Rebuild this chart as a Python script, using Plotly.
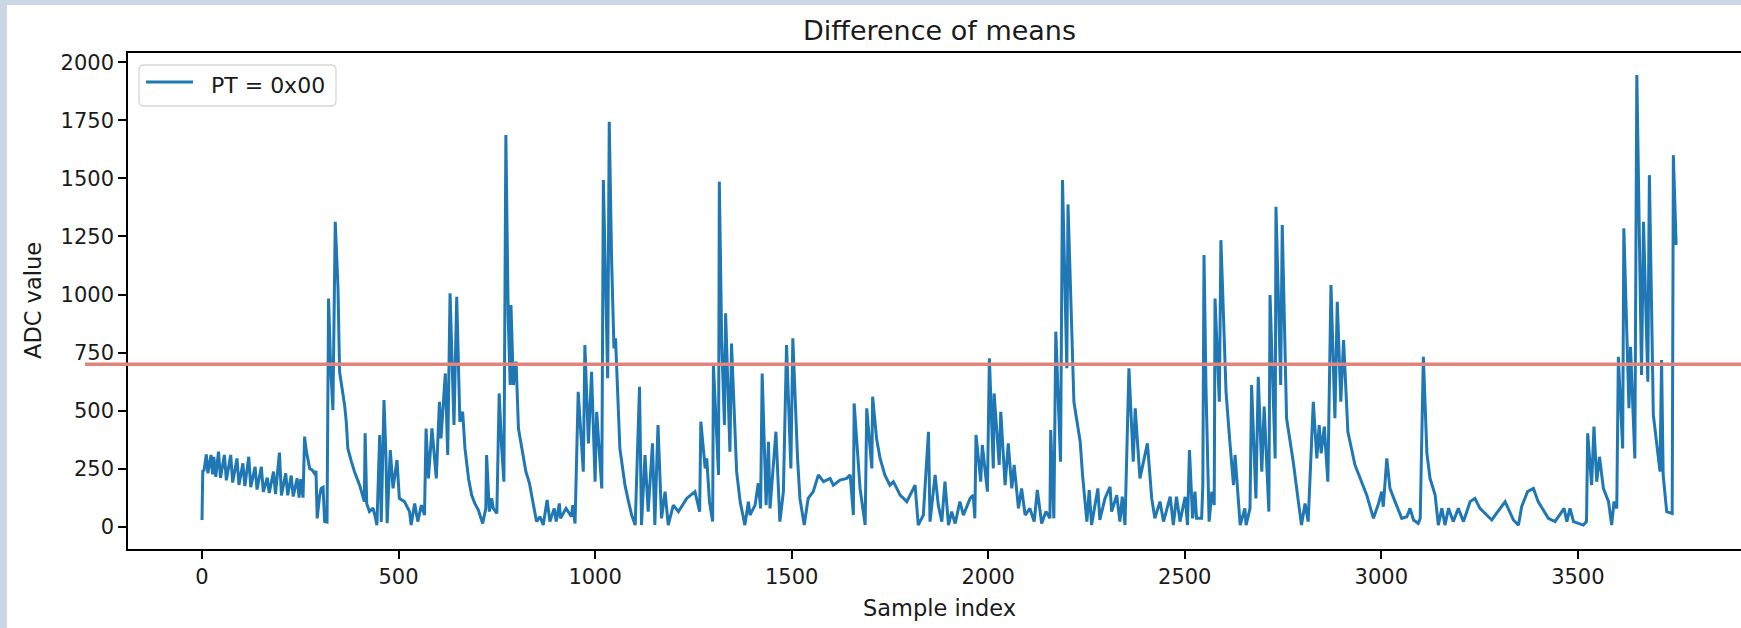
import plotly.graph_objects as go

# ---- data (sample index, ADC value) ----
sample_index = [
    0, 2, 5, 11, 15, 23, 27, 30, 35, 42, 47, 57, 62, 73, 78, 89, 94, 104, 109, 119, 124, 135, 140, 151, 156, 166,
    171, 182, 187, 197, 202, 213, 218, 227, 232, 242, 247, 251, 257, 261, 265, 269, 274, 280, 286, 290, 293, 299,
    303, 308, 312, 318, 322, 327, 333, 339, 346, 350, 354, 363, 367, 371, 380, 388, 401, 409, 413, 415, 419, 426,
    435, 441, 445, 452, 456, 463, 468, 471, 479, 486, 496, 502, 515, 528, 532, 541, 549, 558, 566, 570, 576, 585,
    596, 604, 608, 619, 625, 631,
    641, 648, 656, 663, 669, 678, 686, 694, 703, 714, 722, 724, 731, 737, 741, 750, 756, 762, 768, 773, 779, 784,
    786, 792, 799, 805, 816, 824, 833, 841, 851, 860, 868, 878, 885, 896, 901, 909, 912, 926, 940, 943, 949, 957,
    970, 974, 983, 991, 1000, 1004, 1017, 1021, 1027, 1032, 1036, 1042, 1048, 1052, 1063, 1076, 1085, 1093, 1102,
    1113, 1118, 1127, 1135, 1146, 1152, 1160, 1169, 1178, 1186, 1199, 1212, 1233, 1254, 1266,
    1269, 1280, 1284, 1291, 1299, 1301, 1314, 1316, 1322, 1329, 1332, 1339, 1343, 1347, 1360, 1369, 1381, 1390,
    1394, 1407, 1415, 1421, 1425, 1435, 1441, 1445, 1460, 1470, 1479, 1487, 1498, 1503, 1515, 1521, 1532, 1542,
    1555, 1568, 1581, 1598, 1606, 1623, 1640, 1649, 1657, 1659, 1674, 1687, 1691, 1704, 1706, 1716, 1725, 1737,
    1750, 1759, 1776, 1793, 1814, 1822, 1835, 1848, 1852, 1865, 1873, 1882, 1890, 1899,
    1907, 1916, 1928, 1937, 1954, 1962, 1966, 1969, 1981, 1985, 1998, 2003, 2013, 2015, 2028, 2032, 2043, 2051,
    2060, 2066, 2077, 2085, 2094, 2106, 2117, 2125, 2136, 2147, 2157, 2159, 2167, 2172, 2184, 2189, 2200, 2203,
    2212, 2218, 2234, 2240, 2251, 2257, 2263, 2279, 2284, 2297, 2310, 2314, 2327, 2335, 2341, 2348, 2358, 2369,
    2374, 2386, 2405, 2416, 2424, 2437, 2446, 2463, 2471, 2479, 2488, 2501, 2507, 2512,
    2520, 2526, 2530, 2543, 2546, 2549, 2554, 2562, 2569, 2575, 2577, 2588, 2592, 2605, 2614, 2624, 2628, 2636,
    2641, 2653, 2656, 2666, 2670, 2681, 2687, 2696, 2702, 2714, 2717, 2730, 2732, 2744, 2748, 2759, 2776, 2789,
    2797, 2806, 2814, 2827, 2836, 2842, 2847, 2855, 2864, 2872, 2882, 2888, 2897, 2904, 2915, 2933, 2950, 2963,
    2980, 2993, 3001, 3005, 3014, 3022, 3035, 3052, 3065, 3073, 3082, 3094, 3099, 3107, 3116, 3124, 3137, 3145,
    3154, 3162, 3171,
    3183, 3196, 3209, 3226, 3238, 3251, 3268, 3281, 3293, 3315, 3336, 3349, 3357, 3372, 3387, 3399, 3412, 3425,
    3442, 3465, 3472, 3480, 3489, 3514, 3522, 3525, 3535, 3541, 3548, 3555, 3565, 3578, 3586, 3592, 3599, 3603,
    3614, 3617, 3630, 3634, 3645, 3650, 3662, 3667, 3678, 3682, 3692, 3709, 3713, 3717, 3726, 3740, 3743, 3750,
]

adc_value = [
    29, 244, 240, 311, 230, 309, 225, 301, 215, 323, 210, 309, 200, 309, 190, 294, 180, 273, 175, 301, 170, 258,
    160, 258, 150, 211, 145, 237, 140, 319, 135, 230, 135, 220, 130, 208, 125, 205, 125, 388, 330, 300, 250, 245,
    230, 240, 36, 130, 165, 170, 22, 20, 983, 700, 502, 1313, 1026, 667, 624, 520, 452, 337, 280, 237, 179, 130,
    108, 402, 100, 65, 80, 40, 7, 395, 20, 545, 300, 15, 330, 165, 287, 122, 108, 65, 7, 100, 22, 93, 50, 423,
    208, 423, 208, 538, 380, 660, 309, 1005,
    438, 990, 452, 495, 337, 208, 136, 100, 72, 14, 79, 309, 65, 122, 79, 57, 574, 350, 194, 1687, 900, 610, 955,
    610, 711, 423, 309, 237, 187, 108, 22, 43, 7, 115, 22, 79, 22, 100, 36, 79, 43, 93, 14, 581, 237, 782, 359,
    667, 194, 495, 165, 1493, 1000, 639, 1744, 1148, 768, 811, 337, 179, 108, 50, 7, 603, 7, 309, 65, 359, 7,
    438, 36, 151, 7, 93, 65, 122, 151, 65,
    452, 251, 294, 108, 22, 696, 223, 1486, 800, 438, 919, 500, 323, 789, 237, 108, 7, 108, 50, 93, 187, 79,
    660, 93, 366, 79, 409, 22, 151, 782, 251, 811, 294, 122, 7, 122, 151, 223, 194, 208, 179, 201, 208, 223, 50,
    531, 165, 7, 510, 251, 560, 380, 294, 223, 179, 194, 136, 108, 179, 7, 50, 409, 22, 223, 93, 22, 194, 7,
    65, 14, 108, 50, 122, 136, 36, 395, 194, 352, 151, 725, 251, 574, 266, 495, 179, 359, 165, 266, 79, 165, 50,
    79, 22, 158, 14, 65, 36, 416, 36, 840, 280, 1493, 682, 1388, 882, 538, 366, 223, 22, 158, 7, 165, 29, 122,
    172, 65, 136, 22, 129, 7, 682, 280, 510, 208, 359, 122, 36, 108, 22, 129, 7, 129, 22, 129, 7, 330,
    36, 151, 36, 36, 180, 1170, 600, 22, 151, 93, 983, 538, 1234, 581, 380, 179, 309, 108, 7, 79, 7, 79, 610,
    122, 646, 237, 517, 65, 998, 294, 1378, 610, 1299, 467, 280, 108, 7, 100, 22, 538, 294, 438, 316, 431, 194,
    1041, 467, 969, 538, 804, 409, 266, 194, 136, 36, 100, 151, 86, 294, 165, 108, 36, 43, 79, 29, 14, 36, 732,
    316, 208, 136, 7, 79, 7, 79,
    22, 79, 22, 108, 122, 79, 50, 29, 57, 108, 29, 7, 86, 151, 165, 108, 72, 36, 22, 79, 22, 79, 22, 7, 22, 402,
    179, 431, 194, 301, 165, 108, 7, 108, 79, 732, 337, 1285, 510, 775, 294, 1945, 653, 1313, 624, 1514, 481,
    237, 718, 223, 65, 57, 1600, 1213,
]

series_name = "PT = 0x00"
threshold = 700
chart_title = "Difference of means"
x_label = "Sample index"
y_label = "ADC value"

# ---- layout geometry (pixels) ----
W, H = 1741, 628
L, T, B = 128, 53, 79
PW = W - L
PH = H - T - B

def px_x(p):
    return (p - L) / PW

def px_y(p):
    return (H - B - p) / PH

FONT = "DejaVu Sans"
TXT = "#1a1a1a"
FRAME = "#cbd7e4"
BLUE = "#1f77b4"
LW = 3.0

fig = go.Figure()
fig.add_trace(go.Scatter(
    x=sample_index, y=adc_value, mode="lines", name=series_name,
    line=dict(color=BLUE, width=LW), showlegend=False,
))

# legend box (rounded) geometry in px
lx0, lx1, ly0, ly1, r = 139, 336, 65, 106, 5
def rrect_path(x0, x1, y0, y1, rad):
    X = lambda p: px_x(p)
    Y = lambda p: px_y(p)
    return (f"M {X(x0 + rad)},{Y(y0)} L {X(x1 - rad)},{Y(y0)} "
            f"Q {X(x1)},{Y(y0)} {X(x1)},{Y(y0 + rad)} L {X(x1)},{Y(y1 - rad)} "
            f"Q {X(x1)},{Y(y1)} {X(x1 - rad)},{Y(y1)} L {X(x0 + rad)},{Y(y1)} "
            f"Q {X(x0)},{Y(y1)} {X(x0)},{Y(y1 - rad)} L {X(x0)},{Y(y0 + rad)} "
            f"Q {X(x0)},{Y(y0)} {X(x0 + rad)},{Y(y0)} Z")

shapes = [
    # outer blue-grey frame strips
    dict(type="rect", xref="paper", yref="paper", x0=px_x(-5), x1=px_x(7), y0=px_y(700), y1=px_y(-5),
         fillcolor=FRAME, line=dict(width=0), layer="below"),
    dict(type="rect", xref="paper", yref="paper", x0=px_x(-5), x1=px_x(1760), y0=px_y(5), y1=px_y(-5),
         fillcolor=FRAME, line=dict(width=0), layer="below"),
    # threshold line
    dict(type="line", xref="paper", yref="y", x0=px_x(85), x1=1.01, y0=threshold, y1=threshold,
         line=dict(color="#e0847c", width=3.5), layer="above"),
    # legend frame and sample line
    dict(type="path", xref="paper", yref="paper", path=rrect_path(lx0, lx1, ly0, ly1, r),
         fillcolor="rgba(255,255,255,0.8)", line=dict(color="#d6d6d6", width=1.3), layer="above"),
    dict(type="line", xref="paper", yref="paper", x0=px_x(146), x1=px_x(193), y0=px_y(82), y1=px_y(82),
         line=dict(color=BLUE, width=LW), layer="above"),
]

annotations = [
    dict(text=chart_title, xref="paper", yref="paper", x=px_x(939), y=px_y(31), xanchor="center",
         yanchor="middle", showarrow=False, font=dict(family=FONT, size=27, color=TXT)),
    dict(text=x_label, xref="paper", yref="paper", x=px_x(939), y=px_y(608), xanchor="center",
         yanchor="middle", showarrow=False, font=dict(family=FONT, size=22.5, color=TXT)),
    dict(text=y_label, xref="paper", yref="paper", x=px_x(33), y=px_y(301), xanchor="center",
         yanchor="middle", showarrow=False, textangle=-90, font=dict(family=FONT, size=22.5, color=TXT)),
    dict(text=series_name, xref="paper", yref="paper", x=px_x(209), y=px_y(85), xanchor="left",
         yanchor="middle", showarrow=False, font=dict(family=FONT, size=22, color=TXT)),
]

fig.update_layout(
    width=W, height=H,
    margin=dict(l=L, r=0, t=T, b=B, pad=0),
    paper_bgcolor="white", plot_bgcolor="white",
    font=dict(family=FONT, size=21, color=TXT),
    shapes=shapes, annotations=annotations,
    showlegend=False,
)

fig.update_xaxes(
    range=[(L - 202) / 0.3931, (W - 202) / 0.3931],
    tick0=0, dtick=500, ticks="outside", ticklen=8, tickwidth=1.6, tickcolor="black",
    showline=True, linecolor="black", linewidth=1.6, mirror=True,
    showgrid=False, zeroline=False, tickfont=dict(family=FONT, size=21, color=TXT),
)
fig.update_yaxes(
    range=[-96, 2040],
    tick0=0, dtick=250, ticks="outside", ticklen=8, tickwidth=1.6, tickcolor="black",
    showline=True, linecolor="black", linewidth=1.6, mirror=False,
    showgrid=False, zeroline=False, tickfont=dict(family=FONT, size=21, color=TXT),
)

fig.write_html(
    "out.html",
    config={"displayModeBar": False},
    post_script="document.body.style.margin='0';document.body.style.overflow='hidden';",
)
